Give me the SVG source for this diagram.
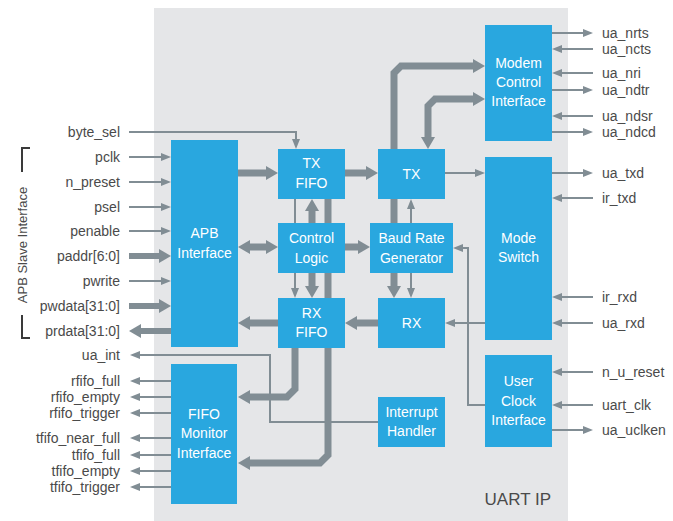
<svg xmlns="http://www.w3.org/2000/svg" width="673" height="521" viewBox="0 0 673 521">
<style>
.box{fill:#29a7df}
.bt{font-family:"Liberation Sans",Arial,sans-serif;font-size:14px;fill:#ffffff;text-anchor:middle}
.lbl{font-family:"Liberation Sans",Arial,sans-serif;font-size:14px;fill:#4a4a4a}
.l{text-anchor:end}
.thin{fill:none;stroke:#818d94;stroke-width:2}
.thick{fill:none;stroke:#818d94;stroke-width:7}
.thickl{fill:none;stroke:#818d94;stroke-width:6}
</style>
<defs>
<marker id="ah" markerWidth="10" markerHeight="8" refX="1" refY="4" orient="auto-start-reverse" markerUnits="userSpaceOnUse"><path d="M0,0 L10,4 L0,8 z" fill="#818d94"/></marker>
<marker id="AH" markerWidth="12" markerHeight="14" refX="1" refY="7" orient="auto-start-reverse" markerUnits="userSpaceOnUse"><path d="M0,0 L12,7 L0,14 z" fill="#818d94"/></marker>
</defs>
<rect x="154" y="8" width="414" height="513" fill="#e5e6e8"/>
<text x="551" y="505" class="lbl l" style="font-size:17px">UART IP</text>

<g id="bracket">
<path d="M30,148 H22 V172 M22,315 V338 H30" fill="none" stroke="#3a3a3a" stroke-width="2"/>
<text transform="translate(27,245) rotate(-90)" class="lbl" style="text-anchor:middle;font-size:13px">APB Slave Interface</text>
</g>

<g id="connectors">
<!-- left inputs -->
<path class="thin" d="M129,132 H296 V140" marker-end="url(#ah)"/>
<path class="thin" d="M129,157 H162" marker-end="url(#ah)"/>
<path class="thin" d="M129,182 H162" marker-end="url(#ah)"/>
<path class="thin" d="M129,207 H162" marker-end="url(#ah)"/>
<path class="thin" d="M129,231 H162" marker-end="url(#ah)"/>
<path class="thickl" d="M129,256 H160" marker-end="url(#AH)"/>
<path class="thin" d="M129,281 H162" marker-end="url(#ah)"/>
<path class="thickl" d="M129,306 H160" marker-end="url(#AH)"/>
<path class="thickl" d="M171,331 H140" marker-end="url(#AH)"/>
<!-- left outputs -->
<path class="thin" d="M378,422 H270 V355 H139" marker-end="url(#ah)"/>
<path class="thin" d="M171,381 H139" marker-end="url(#ah)"/>
<path class="thin" d="M171,397 H139" marker-end="url(#ah)"/>
<path class="thin" d="M171,413 H139" marker-end="url(#ah)"/>
<path class="thin" d="M171,438 H139" marker-end="url(#ah)"/>
<path class="thin" d="M171,455 H139" marker-end="url(#ah)"/>
<path class="thin" d="M171,471 H139" marker-end="url(#ah)"/>
<path class="thin" d="M171,487 H139" marker-end="url(#ah)"/>
<!-- internal thin -->
<path class="thin" d="M295,199 V289" marker-end="url(#ah)"/>
<path class="thin" d="M411,223 V208" marker-end="url(#ah)"/>
<path class="thin" d="M411,273 V289" marker-end="url(#ah)"/>
<path class="thin" d="M445,173 H476" marker-end="url(#ah)"/>
<path class="thin" d="M485,323 H454" marker-end="url(#ah)"/>
<path class="thin" d="M485,405 H468 V248 H462" marker-end="url(#ah)"/>
<!-- right side -->
<path class="thin" d="M552,33 H584" marker-end="url(#ah)"/>
<path class="thin" d="M593,49 H561" marker-end="url(#ah)"/>
<path class="thin" d="M593,73 H561" marker-end="url(#ah)"/>
<path class="thin" d="M552,90 H584" marker-end="url(#ah)"/>
<path class="thin" d="M593,116 H561" marker-end="url(#ah)"/>
<path class="thin" d="M552,132 H584" marker-end="url(#ah)"/>
<path class="thin" d="M552,173 H584" marker-end="url(#ah)"/>
<path class="thin" d="M593,198 H561" marker-end="url(#ah)"/>
<path class="thin" d="M593,297 H561" marker-end="url(#ah)"/>
<path class="thin" d="M593,323 H561" marker-end="url(#ah)"/>
<path class="thin" d="M593,372 H561" marker-end="url(#ah)"/>
<path class="thin" d="M593,405 H561" marker-end="url(#ah)"/>
<path class="thin" d="M552,430 H584" marker-end="url(#ah)"/>
<!-- internal thick -->
<path class="thick" d="M238,173 H267" marker-end="url(#AH)"/>
<path class="thick" d="M249,247 H267" marker-start="url(#AH)" marker-end="url(#AH)"/>
<path class="thick" d="M278,323 H249" marker-end="url(#AH)"/>
<path class="thick" d="M345,173 H367" marker-end="url(#AH)"/>
<path class="thick" d="M345,247 H359" marker-end="url(#AH)"/>
<path class="thick" d="M378,323 H356" marker-end="url(#AH)"/>
<path class="thick" d="M312,223 V210" marker-end="url(#AH)"/>
<path class="thick" d="M312,273 V287" marker-end="url(#AH)"/>
<path class="thick" d="M394,287 V73 L401,66 H474" marker-start="url(#AH)" marker-end="url(#AH)"/>
<path class="thick" d="M428,138 V106 L435,99 H474" marker-start="url(#AH)" marker-end="url(#AH)"/>
<path class="thick" d="M328,199 V455 L320,463 H249" marker-end="url(#AH)"/>
<path class="thick" d="M295,348 V389 L287,397 H249" marker-end="url(#AH)"/>
</g>

<g id="apb"><rect class="box" x="171" y="140" width="67" height="207"/><text class="bt" x="204.5" y="238">APB</text><text class="bt" x="204.5" y="258">Interface</text></g>
<g id="fifomon"><rect class="box" x="171" y="364" width="66" height="140"/><text class="bt" x="204" y="419">FIFO</text><text class="bt" x="204" y="438">Monitor</text><text class="bt" x="204" y="458">Interface</text></g>
<g id="txfifo"><rect class="box" x="278" y="149" width="67" height="50"/><text class="bt" x="311.5" y="168">TX</text><text class="bt" x="311.5" y="188">FIFO</text></g>
<g id="ctrl"><rect class="box" x="278" y="223" width="67" height="50"/><text class="bt" x="311.5" y="243">Control</text><text class="bt" x="311.5" y="263">Logic</text></g>
<g id="rxfifo"><rect class="box" x="278" y="298" width="67" height="50"/><text class="bt" x="311.5" y="318">RX</text><text class="bt" x="311.5" y="337">FIFO</text></g>
<g id="tx"><rect class="box" x="378" y="149" width="67" height="50"/><text class="bt" x="411.5" y="179">TX</text></g>
<g id="baud"><rect class="box" x="370" y="223" width="83" height="50"/><text class="bt" x="411.5" y="243">Baud Rate</text><text class="bt" x="411.5" y="263">Generator</text></g>
<g id="rx"><rect class="box" x="378" y="298" width="67" height="50"/><text class="bt" x="411.5" y="328">RX</text></g>
<g id="irq"><rect class="box" x="378" y="397" width="67" height="50"/><text class="bt" x="411.5" y="417">Interrupt</text><text class="bt" x="411.5" y="436">Handler</text></g>
<g id="modem"><rect class="box" x="485" y="25" width="67" height="116"/><text class="bt" x="518.5" y="68">Modem</text><text class="bt" x="518.5" y="87">Control</text><text class="bt" x="518.5" y="106">Interface</text></g>
<g id="mode"><rect class="box" x="485" y="157" width="67" height="183"/><text class="bt" x="518.5" y="243">Mode</text><text class="bt" x="518.5" y="262">Switch</text></g>
<g id="uclk"><rect class="box" x="485" y="355" width="67" height="92"/><text class="bt" x="518.5" y="386">User</text><text class="bt" x="518.5" y="406">Clock</text><text class="bt" x="518.5" y="425">Interface</text></g>

<g id="labels-left">
<text class="lbl l" x="120" y="137">byte_sel</text>
<text class="lbl l" x="120" y="162">pclk</text>
<text class="lbl l" x="120" y="187">n_preset</text>
<text class="lbl l" x="120" y="212">psel</text>
<text class="lbl l" x="120" y="236">penable</text>
<text class="lbl l" x="120" y="261">paddr[6:0]</text>
<text class="lbl l" x="120" y="286">pwrite</text>
<text class="lbl l" x="120" y="311">pwdata[31:0]</text>
<text class="lbl l" x="120" y="336">prdata[31:0]</text>
<text class="lbl l" x="120" y="360">ua_int</text>
<text class="lbl l" x="120" y="386">rfifo_full</text>
<text class="lbl l" x="120" y="402">rfifo_empty</text>
<text class="lbl l" x="120" y="418">rfifo_trigger</text>
<text class="lbl l" x="120" y="443">tfifo_near_full</text>
<text class="lbl l" x="120" y="460">tfifo_full</text>
<text class="lbl l" x="120" y="476">tfifo_empty</text>
<text class="lbl l" x="120" y="492">tfifo_trigger</text>
</g>
<g id="labels-right">
<text class="lbl" x="602" y="38">ua_nrts</text>
<text class="lbl" x="602" y="54">ua_ncts</text>
<text class="lbl" x="602" y="78">ua_nri</text>
<text class="lbl" x="602" y="95">ua_ndtr</text>
<text class="lbl" x="602" y="121">ua_ndsr</text>
<text class="lbl" x="602" y="137">ua_ndcd</text>
<text class="lbl" x="602" y="178">ua_txd</text>
<text class="lbl" x="602" y="203">ir_txd</text>
<text class="lbl" x="602" y="302">ir_rxd</text>
<text class="lbl" x="602" y="328">ua_rxd</text>
<text class="lbl" x="602" y="377">n_u_reset</text>
<text class="lbl" x="602" y="410">uart_clk</text>
<text class="lbl" x="602" y="435">ua_uclken</text>
</g>
</svg>
